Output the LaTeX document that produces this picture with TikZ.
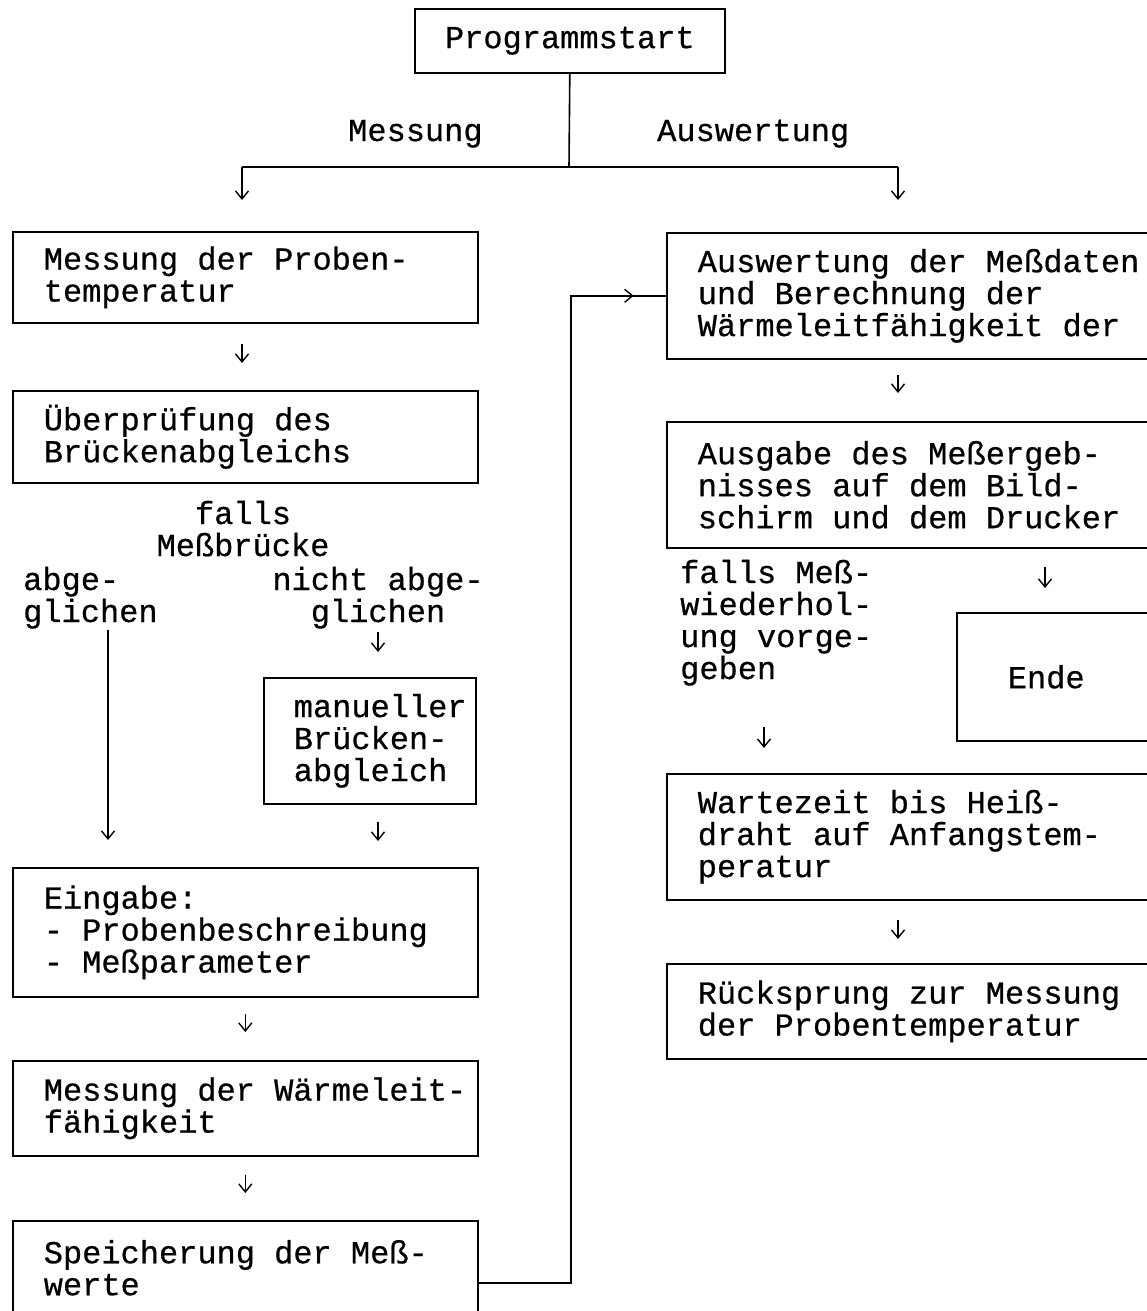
\documentclass[tikz,border=0pt]{standalone}
\usepackage{fontspec}
\setmonofont[FakeBold=0.6]{Liberation Mono}
\usetikzlibrary{arrows.meta,calc}
\newcommand\monospacing{\spaceskip=19.2pt\relax\xspaceskip=19.2pt\relax}
\begin{document}
\begin{tikzpicture}[x=1pt,y=-1pt,
  every node/.style={font={\ttfamily\fontsize{32}{32}\selectfont}},
  box/.style={draw, line width=1.6pt, anchor=north west, inner xsep=6pt, inner ysep=0pt,
              align=left, execute at begin node={\leftskip=#1\relax\monospacing}},
  box/.default=25pt,
  startbox/.style={draw, line width=1.6pt, anchor=north west, inner sep=0pt, align=center},
  lbl/.style={inner sep=0pt, align=left, anchor=base west, execute at begin node={\monospacing}},
  clbl/.style={inner sep=0pt, align=center, anchor=base, execute at begin node={\monospacing}},
  line/.style={line width=1.6pt},
  arr/.style={line width=1.4pt, -{Straight Barb[length=8pt,width=13pt]}},
]
\useasboundingbox (0,0) rectangle (1146,1311);

% ---------- boxes ----------
\node[startbox, minimum width=310pt, minimum height=64pt] (prog) at (414,8) {Programmstart};

\node[box, minimum width=465pt, minimum height=91pt, text width=453pt] (b1) at (12,231)
  {Messung der Proben-\\temperatur};
\node[box, minimum width=465pt, minimum height=92pt, text width=453pt] (b2) at (12,390)
  {Überprüfung des\\Brückenabgleichs};
\node[box=24pt, minimum width=212pt, minimum height=126pt, text width=200pt] (manual) at (263,677)
  {manueller\\Brücken-\\abgleich};
\node[box, minimum width=465pt, minimum height=129pt, text width=453pt] (b3) at (12,867)
  {Eingabe:\\- Probenbeschreibung\\- Meßparameter};
\node[box, minimum width=465pt, minimum height=95pt, text width=453pt] (b4) at (12,1060)
  {Messung der Wärmeleit-\\fähigkeit};
\node[box, minimum width=465pt, minimum height=94pt, text width=453pt] (b5) at (12,1220)
  {Speicherung der Meß-\\werte};

\node[box, minimum width=514pt, minimum height=126pt, text width=502pt] (r1) at (666,232)
  {Auswertung der Meßdaten\\und Berechnung der\\Wärmeleitfähigkeit der};
\node[box, minimum width=514pt, minimum height=126pt, text width=502pt] (r2) at (666,421)
  {Ausgabe des Meßergeb-\\nisses auf dem Bild-\\schirm und dem Drucker};
\node[box=45pt, minimum width=224pt, minimum height=128pt, text width=212pt] (ende) at (956,612)
  {Ende};
\node[box, minimum width=514pt, minimum height=126pt, text width=502pt] (r3) at (666,773)
  {Wartezeit bis Heiß-\\draht auf Anfangstem-\\peratur};
\node[box, minimum width=514pt, minimum height=95pt, text width=502pt] (r4) at (666,963)
  {Rücksprung zur Messung\\der Probentemperatur};

% ---------- labels ----------
\node[lbl] (mess) at (348,141) {Messung};
\node[lbl] (ausw) at (657,141) {Auswertung};
\node[clbl, text width=220pt] (falls) at (243,524) {falls\\Meßbrücke};
\node[lbl, text width=180pt] (abge) at (23,590) {abge-\\glichen};
\node[clbl, text width=240pt] (nicht) at (378,590) {nicht abge-\\glichen};
\node[lbl, text width=220pt] (wied) at (680,583) {falls Meß-\\wiederhol-\\ung vorge-\\geben};

% ---------- helper coordinates ----------
\coordinate (split) at (569,167);
\coordinate (splitL) at (242,167);
\coordinate (splitR) at (898,167);
\coordinate (ax) at (108,630);
\coordinate (ecol) at (1045,547);
\coordinate (wx) at (764,690);
\coordinate (lp) at (571,1283);

% ---------- connectors ----------
\draw[line] (prog.south) -- (split);
\draw[line] (splitL) -- (splitR);
\draw[arr, shorten >=31pt] (splitL) -- (splitL |- b1.north);
\draw[arr, shorten >=32pt] (splitR) -- (splitR |- r1.north);

\draw[arr, shorten <=20pt, shorten >=27pt] (b1.south -| splitL) -- (b2.north -| splitL);
\draw[arr, shorten >=27pt] (ax) -- (ax |- b3.north);
\draw[arr, shorten <=3pt, shorten >=25pt] (nicht.south) -- (nicht.south |- manual.north);
\draw[arr, shorten <=17pt, shorten >=26pt] (manual.south -| nicht.south) -- (b3.north -| nicht.south);
\draw[arr, shorten <=16pt, shorten >=28pt] (b3.south) -- (b4.north);
\draw[arr, shorten <=18pt, shorten >=27pt] (b4.south) -- (b5.north);

\draw[arr, shorten <=15pt, shorten >=28pt] (r1.south -| splitR) -- (r2.north -| splitR);
\draw[arr, shorten <=20pt, shorten >=24pt] (ecol) -- (ecol |- ende.north);
\draw[arr, shorten <=37pt, shorten >=25pt] (wx) -- (wx |- r3.north);
\draw[arr, shorten <=19pt, shorten >=24pt] (r3.south -| splitR) -- (r4.north -| splitR);

% feedback loop
\draw[line] (b5.east |- lp) -- (lp) -- (lp |- r1.west) -- (r1.west);
\draw[arr] (lp |- r1.west) -- ($(lp |- r1.west)!0.66!(r1.west)$);
\end{tikzpicture}
\end{document}
